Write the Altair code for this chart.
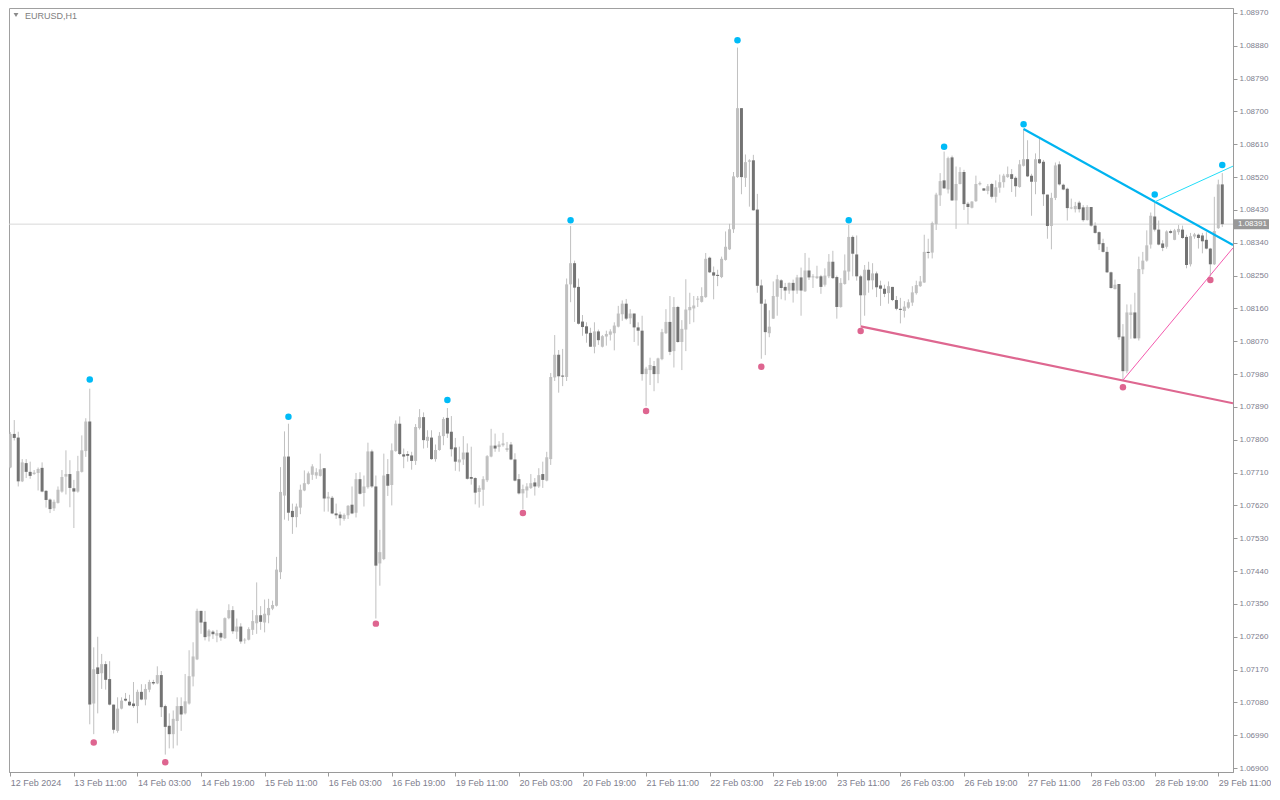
import altair as alt
import pandas as pd

# ---------------- OHLC data (EURUSD H1, bar 0 = 12 Feb 19:00) ----------------
open_ = [
    1.07724,1.07816,1.07806,1.07686,1.07736,1.07712,1.07706,1.07709,1.07723,1.07660,
    1.07636,1.07612,1.07627,1.07658,1.07699,1.07706,1.07667,1.07658,1.07712,1.07769,
    1.07850,1.07077,1.07176,1.07160,1.07185,1.07144,1.07074,1.07002,1.07063,1.07090,
    1.07082,1.07077,1.07070,1.07109,1.07088,1.07115,1.07136,1.07132,1.07155,1.07070,
    1.07016,1.06993,1.07029,1.07070,1.07050,1.07077,1.07151,1.07198,1.07331,1.07301,
    1.07261,1.07274,1.07263,1.07270,1.07256,1.07311,1.07333,1.07274,1.07288,1.07250,
    1.07252,1.07279,1.07297,1.07319,1.07299,1.07319,1.07337,1.07345,1.07437,1.07647,
    1.07754,1.07605,1.07588,1.07614,1.07661,1.07679,1.07704,1.07702,1.07701,1.07722,
    1.07639,1.07641,1.07598,1.07595,1.07583,1.07593,1.07622,1.07600,1.07692,1.07654,
    1.07670,1.07768,1.07672,1.07461,1.07473,1.07706,1.07676,1.07769,1.07844,1.07760,
    1.07761,1.07757,1.07742,1.07832,1.07862,1.07797,1.07806,1.07747,1.07772,1.07810,
    1.07860,1.07822,1.07779,1.07738,1.07746,1.07765,1.07698,1.07695,1.07657,1.07663,
    1.07689,1.07754,1.07784,1.07780,1.07785,1.07772,1.07787,1.07746,1.07692,1.07653,
    1.07661,1.07668,1.07683,1.07672,1.07706,1.07688,1.07747,1.07971,1.08033,1.07976,
    1.07972,1.08226,1.08284,1.08219,1.08124,1.08111,1.08093,1.08055,1.08097,1.08055,
    1.08083,1.08088,1.08092,1.08110,1.08144,1.08173,1.08133,1.08146,1.08108,1.08099,
    1.07980,1.07991,1.08002,1.07980,1.08021,1.08092,1.08123,1.08043,1.08164,1.08068,
    1.08102,1.08155,1.08160,1.08184,1.08178,1.08191,1.08299,1.08259,1.08252,1.08246,
    1.08293,1.08322,1.08377,1.08520,1.08709,1.08518,1.08562,1.08566,1.08431,1.08223,
    1.08173,1.08092,1.08132,1.08192,1.08237,1.08219,1.08209,1.08230,1.08209,1.08245,
    1.08207,1.08264,1.08245,1.08243,1.08248,1.08225,1.08248,1.08288,1.08246,1.08164,
    1.08227,1.08261,1.08356,1.08308,1.08248,1.08196,1.08266,1.08237,1.08256,1.08223,
    1.08214,1.08202,1.08219,1.08183,1.08159,1.08153,1.08162,1.08176,1.08202,1.08221,
    1.08231,1.08315,1.08313,1.08391,1.08470,1.08511,1.08486,1.08574,1.08456,1.08501,
    1.08534,1.08447,1.08436,1.08454,1.08500,1.08489,1.08482,1.08501,1.08466,1.08491,
    1.08506,1.08520,1.08528,1.08518,1.08493,1.08551,1.08569,1.08524,1.08507,1.08569,
    1.08562,1.08472,1.08386,1.08463,1.08555,1.08499,1.08488,1.08434,1.08432,1.08450,
    1.08437,1.08402,1.08438,1.08387,1.08369,1.08339,1.08315,1.08259,1.08213,1.08227,
    1.08083,1.07988,1.08142,1.08149,1.08078,1.08267,1.08291,1.08335,1.08412,1.08376,
    1.08338,1.08329,1.08372,1.08348,1.08369,1.08376,1.08356,1.08281,1.08357,1.08362,
    1.08360,1.08348,1.08324,1.08281,1.08380,1.08500,
]
high = [
    1.07821,1.07854,1.07822,1.07747,1.07747,1.07740,1.07717,1.07724,1.07738,1.07662,
    1.07639,1.07636,1.07672,1.07717,1.07771,1.07744,1.07690,1.07756,1.07812,1.07859,
    1.07940,1.07231,1.07260,1.07213,1.07193,1.07193,1.07074,1.07094,1.07094,1.07106,
    1.07101,1.07136,1.07115,1.07130,1.07130,1.07142,1.07142,1.07179,1.07166,1.07074,
    1.07050,1.07058,1.07094,1.07094,1.07158,1.07223,1.07245,1.07337,1.07331,1.07331,
    1.07281,1.07278,1.07279,1.07274,1.07313,1.07349,1.07344,1.07310,1.07297,1.07256,
    1.07286,1.07333,1.07409,1.07344,1.07362,1.07364,1.07359,1.07479,1.07725,1.07823,
    1.07844,1.07625,1.07625,1.07677,1.07716,1.07713,1.07733,1.07722,1.07762,1.07722,
    1.07657,1.07646,1.07625,1.07603,1.07598,1.07621,1.07672,1.07709,1.07711,1.07702,
    1.07792,1.07773,1.07702,1.07553,1.07762,1.07747,1.07790,1.07853,1.07864,1.07776,
    1.07769,1.07767,1.07843,1.07884,1.07875,1.07826,1.07826,1.07787,1.07821,1.07862,
    1.07887,1.07865,1.07805,1.07781,1.07810,1.07790,1.07781,1.07697,1.07675,1.07700,
    1.07758,1.07830,1.07817,1.07796,1.07819,1.07794,1.07794,1.07763,1.07706,1.07677,
    1.07681,1.07706,1.07695,1.07722,1.07740,1.07767,1.07983,1.08087,1.08046,1.08049,
    1.08242,1.08386,1.08291,1.08242,1.08142,1.08122,1.08107,1.08122,1.08102,1.08087,
    1.08099,1.08103,1.08122,1.08167,1.08182,1.08186,1.08158,1.08146,1.08122,1.08140,
    1.08000,1.08025,1.08016,1.08025,1.08104,1.08158,1.08194,1.08191,1.08167,1.08128,
    1.08240,1.08203,1.08194,1.08194,1.08218,1.08312,1.08302,1.08275,1.08266,1.08302,
    1.08371,1.08392,1.08534,1.08875,1.08709,1.08582,1.08569,1.08581,1.08474,1.08239,
    1.08185,1.08155,1.08234,1.08252,1.08240,1.08230,1.08231,1.08239,1.08252,1.08272,
    1.08312,1.08299,1.08254,1.08277,1.08252,1.08270,1.08309,1.08318,1.08250,1.08243,
    1.08308,1.08389,1.08360,1.08360,1.08252,1.08279,1.08288,1.08284,1.08261,1.08236,
    1.08225,1.08234,1.08219,1.08194,1.08189,1.08180,1.08185,1.08221,1.08236,1.08249,
    1.08362,1.08351,1.08398,1.08477,1.08531,1.08590,1.08576,1.08579,1.08549,1.08547,
    1.08540,1.08452,1.08454,1.08524,1.08508,1.08490,1.08501,1.08504,1.08511,1.08527,
    1.08529,1.08549,1.08542,1.08522,1.08567,1.08653,1.08621,1.08529,1.08585,1.08626,
    1.08567,1.08472,1.08477,1.08560,1.08563,1.08502,1.08491,1.08461,1.08452,1.08455,
    1.08443,1.08443,1.08438,1.08396,1.08371,1.08351,1.08329,1.08261,1.08239,1.08227,
    1.08117,1.08171,1.08171,1.08203,1.08302,1.08315,1.08374,1.08423,1.08450,1.08401,
    1.08347,1.08374,1.08376,1.08378,1.08389,1.08387,1.08362,1.08367,1.08367,1.08365,
    1.08367,1.08369,1.08326,1.08466,1.08513,1.08531,
]
low = [
    1.07722,1.07798,1.07672,1.07684,1.07695,1.07693,1.07704,1.07661,1.07656,1.07614,
    1.07599,1.07605,1.07625,1.07655,1.07650,1.07615,1.07558,1.07655,1.07710,1.07753,
    1.07020,1.06993,1.07050,1.07117,1.07115,1.07072,1.06995,1.06997,1.07061,1.07083,
    1.07070,1.07065,1.07023,1.07086,1.07072,1.07108,1.07128,1.07130,1.07040,1.06937,
    1.06954,1.06954,1.06962,1.07002,1.07047,1.07074,1.07124,1.07196,1.07268,1.07250,
    1.07247,1.07254,1.07245,1.07249,1.07254,1.07308,1.07268,1.07254,1.07241,1.07241,
    1.07250,1.07265,1.07268,1.07279,1.07272,1.07297,1.07333,1.07343,1.07418,1.07581,
    1.07578,1.07542,1.07560,1.07596,1.07659,1.07677,1.07690,1.07693,1.07699,1.07603,
    1.07603,1.07596,1.07583,1.07565,1.07578,1.07583,1.07596,1.07587,1.07650,1.07617,
    1.07666,1.07668,1.07310,1.07400,1.07470,1.07646,1.07620,1.07767,1.07758,1.07722,
    1.07740,1.07718,1.07731,1.07828,1.07776,1.07778,1.07745,1.07740,1.07770,1.07785,
    1.07805,1.07754,1.07715,1.07713,1.07731,1.07691,1.07677,1.07623,1.07614,1.07619,
    1.07684,1.07752,1.07767,1.07767,1.07781,1.07767,1.07744,1.07686,1.07650,1.07610,
    1.07641,1.07665,1.07647,1.07668,1.07668,1.07686,1.07731,1.07961,1.07929,1.07947,
    1.07961,1.08177,1.08123,1.08116,1.08085,1.08066,1.08055,1.08037,1.08060,1.08053,
    1.08058,1.08072,1.08045,1.08108,1.08126,1.08128,1.08117,1.08068,1.08058,1.07962,
    1.07892,1.07950,1.07933,1.07955,1.08018,1.08090,1.08032,1.07998,1.08066,1.07991,
    1.08043,1.08117,1.08122,1.08164,1.08176,1.08189,1.08257,1.08185,1.08221,1.08243,
    1.08291,1.08320,1.08367,1.08518,1.08473,1.08493,1.08439,1.08428,1.08203,1.08022,
    1.08032,1.08081,1.08131,1.08140,1.08185,1.08182,1.08200,1.08176,1.08200,1.08140,
    1.08205,1.08238,1.08216,1.08241,1.08200,1.08220,1.08243,1.08241,1.08132,1.08162,
    1.08225,1.08237,1.08248,1.08236,1.08113,1.08140,1.08203,1.08212,1.08191,1.08167,
    1.08191,1.08173,1.08180,1.08155,1.08119,1.08135,1.08159,1.08167,1.08198,1.08219,
    1.08230,1.08297,1.08297,1.08375,1.08441,1.08488,1.08475,1.08455,1.08378,1.08500,
    1.08430,1.08391,1.08434,1.08452,1.08497,1.08482,1.08473,1.08461,1.08450,1.08477,
    1.08491,1.08518,1.08479,1.08466,1.08491,1.08549,1.08520,1.08414,1.08473,1.08556,
    1.08441,1.08351,1.08322,1.08457,1.08497,1.08484,1.08401,1.08432,1.08423,1.08423,
    1.08398,1.08401,1.08384,1.08365,1.08320,1.08313,1.08257,1.08214,1.08212,1.08074,
    1.07962,1.07982,1.08077,1.08077,1.08072,1.08254,1.08288,1.08324,1.08371,1.08333,
    1.08317,1.08324,1.08365,1.08347,1.08362,1.08351,1.08270,1.08275,1.08351,1.08324,
    1.08311,1.08322,1.08248,1.08279,1.08378,1.08383,
]
close = [
    1.07816,1.07805,1.07686,1.07738,1.07712,1.07701,1.07710,1.07720,1.07658,1.07635,
    1.07610,1.07630,1.07663,1.07698,1.07706,1.07668,1.07658,1.07714,1.07771,1.07850,
    1.07074,1.07171,1.07158,1.07185,1.07142,1.07074,1.07005,1.07063,1.07085,1.07085,
    1.07072,1.07070,1.07109,1.07088,1.07117,1.07136,1.07132,1.07155,1.07067,1.07013,
    1.06993,1.07035,1.07070,1.07047,1.07083,1.07152,1.07206,1.07331,1.07299,1.07259,
    1.07277,1.07267,1.07270,1.07258,1.07311,1.07333,1.07275,1.07288,1.07247,1.07252,
    1.07281,1.07303,1.07319,1.07301,1.07323,1.07339,1.07347,1.07444,1.07657,1.07754,
    1.07600,1.07588,1.07617,1.07663,1.07681,1.07708,1.07727,1.07711,1.07719,1.07639,
    1.07644,1.07598,1.07593,1.07585,1.07594,1.07619,1.07598,1.07692,1.07652,1.07672,
    1.07768,1.07672,1.07455,1.07492,1.07702,1.07674,1.07771,1.07844,1.07761,1.07754,
    1.07756,1.07742,1.07835,1.07862,1.07799,1.07808,1.07747,1.07772,1.07811,1.07857,
    1.07817,1.07774,1.07740,1.07746,1.07765,1.07693,1.07693,1.07655,1.07668,1.07692,
    1.07755,1.07784,1.07776,1.07787,1.07790,1.07777,1.07746,1.07688,1.07653,1.07665,
    1.07672,1.07681,1.07672,1.07703,1.07690,1.07752,1.07972,1.08033,1.07974,1.07973,
    1.08226,1.08284,1.08217,1.08118,1.08109,1.08091,1.08055,1.08097,1.08073,1.08084,
    1.08090,1.08097,1.08113,1.08146,1.08173,1.08132,1.08146,1.08108,1.08099,1.07980,
    1.07995,1.08005,1.07980,1.08023,1.08095,1.08123,1.08041,1.08164,1.08068,1.08104,
    1.08157,1.08164,1.08168,1.08187,1.08194,1.08296,1.08259,1.08250,1.08249,1.08296,
    1.08329,1.08377,1.08522,1.08709,1.08520,1.08561,1.08566,1.08429,1.08222,1.08173,
    1.08095,1.08110,1.08194,1.08240,1.08216,1.08209,1.08230,1.08209,1.08245,1.08209,
    1.08264,1.08245,1.08248,1.08248,1.08219,1.08250,1.08288,1.08243,1.08164,1.08230,
    1.08264,1.08356,1.08310,1.08248,1.08196,1.08266,1.08237,1.08256,1.08218,1.08214,
    1.08200,1.08221,1.08183,1.08159,1.08156,1.08165,1.08177,1.08204,1.08224,1.08234,
    1.08315,1.08312,1.08394,1.08472,1.08509,1.08489,1.08572,1.08456,1.08501,1.08534,
    1.08446,1.08438,1.08453,1.08501,1.08504,1.08483,1.08495,1.08466,1.08492,1.08506,
    1.08524,1.08528,1.08515,1.08495,1.08555,1.08569,1.08522,1.08507,1.08569,1.08558,
    1.08473,1.08386,1.08463,1.08552,1.08500,1.08486,1.08435,1.08437,1.08441,1.08432,
    1.08402,1.08438,1.08387,1.08367,1.08336,1.08315,1.08259,1.08216,1.08225,1.08081,
    1.07988,1.08149,1.08149,1.08078,1.08268,1.08291,1.08333,1.08414,1.08376,1.08335,
    1.08326,1.08371,1.08367,1.08374,1.08378,1.08353,1.08279,1.08358,1.08363,1.08353,
    1.08344,1.08324,1.08281,1.08372,1.08500,1.08391,
]

# ---------------- axis labels ----------------
date_idx = [0, 16, 32, 48, 64, 80, 96, 112, 128, 144, 160, 176, 192, 208, 224, 240, 256, 272, 288, 304]
date_labels = ["12 Feb 2024", "13 Feb 11:00", "14 Feb 03:00", "14 Feb 19:00", "15 Feb 11:00",
               "16 Feb 03:00", "16 Feb 19:00", "19 Feb 11:00", "20 Feb 03:00", "20 Feb 19:00",
               "21 Feb 11:00", "22 Feb 03:00", "22 Feb 19:00", "23 Feb 11:00", "26 Feb 03:00",
               "26 Feb 19:00", "27 Feb 11:00", "28 Feb 03:00", "28 Feb 19:00", "29 Feb 11:00"]
price_ticks = [1.06900, 1.06990, 1.07080, 1.07170, 1.07260, 1.07350, 1.07440, 1.07530,
               1.07620, 1.07710, 1.07800, 1.07890, 1.07980, 1.08070, 1.08160, 1.08250,
               1.08340, 1.08430, 1.08520, 1.08610, 1.08700, 1.08790, 1.08880, 1.08970]

# ---------------- fractal dots ----------------
up_idx = [20, 70, 110, 141, 183, 211, 235, 255, 288, 305]
up_price = [1.07965, 1.07863, 1.07909, 1.08402, 1.08895, 1.08402, 1.08603, 1.08665, 1.08472, 1.08553]
dn_idx = [21, 39, 92, 129, 160, 189, 214, 280, 302]
dn_price = [1.06970, 1.06916, 1.07296, 1.07599, 1.07879, 1.08000, 1.08098, 1.07944, 1.08238]

# ---------------- trend lines ----------------
line_x1 = [255, 288, 214, 280]
line_y1 = [1.08652, 1.08452, 1.08111, 1.07963]
line_x2 = [307.7, 307.7, 307.7, 307.7]
line_y2 = [1.08334, 1.08550, 1.07900, 1.08326]
line_col = ["#00B4F0", "#22DDF8", "#DE6790", "#F45AAE"]
line_w = [2.2, 1.0, 2.2, 1.0]

current_price = 1.08391
symbol = "EURUSD,H1"

n = len(close)
assert len(open_) == n and len(high) == n and len(low) == n and n == 306

bars = pd.DataFrame({"i": list(range(n)), "open": open_, "high": high, "low": low, "close": close})
up_df = pd.DataFrame({"i": up_idx, "p": up_price})
dn_df = pd.DataFrame({"i": dn_idx, "p": dn_price})
lines_df = pd.DataFrame({"x1": line_x1, "y1": line_y1, "x2": line_x2, "y2": line_y2,
                         "col": line_col, "w": line_w})
cur_df = pd.DataFrame({"p": [current_price], "lab": ["%.5f" % current_price]})
sym_df = pd.DataFrame({"t": [symbol]})

W, H = 1224, 764
xs = alt.Scale(domain=[-0.325, 307.7], nice=False, zero=False, padding=0)
ys = alt.Scale(domain=[1.068893, 1.089835], nice=False, zero=False, padding=0)

FONT = "Liberation Sans"
AXC = "#9A9A9A"
LBL = "#7E7E8E"

label_js = "[" + ",".join("'%s'" % s for s in date_labels) + "]"
idx_js = "[" + ",".join(str(v) for v in date_idx) + "]"

x_axis = alt.Axis(values=date_idx, labelExpr=f"{label_js}[indexof({idx_js}, datum.value)]",
                  grid=False, tickSize=4, tickColor=AXC, domainColor=AXC,
                  labelAlign="left", labelBaseline="top", labelPadding=2,
                  labelFont=FONT, labelFontSize=9, labelColor=LBL,
                  labelOverlap=False, labelFlush=False, title=None)
y_axis = alt.Axis(orient="right", values=price_ticks, format=".5f", grid=False,
                  tickSize=4, tickColor=AXC, domainColor=AXC, labelPadding=2,
                  labelFont=FONT, labelFontSize=8, labelColor=LBL,
                  labelOverlap=False, labelFlush=False, title=None)


def X(field):
    return alt.X(field, type="quantitative", scale=xs, axis=x_axis)


def Y(field):
    return alt.Y(field, type="quantitative", scale=ys, axis=y_axis)


cur_line = alt.Chart(cur_df).mark_rule(color="#D8D8D8", strokeWidth=1).encode(y=Y("p"))

wicks = alt.Chart(bars).mark_rule(color="#C0C0C0", strokeWidth=1, clip=True).encode(
    x=X("i"), y=Y("low"), y2="high")

bodies = alt.Chart(bars).mark_bar(size=3, clip=True).encode(
    x=X("i"), y=Y("open"), y2="close",
    color=alt.condition("datum.close >= datum.open", alt.value("#C0C0C0"), alt.value("#737373")))

tlines = alt.Chart(lines_df).mark_rule(clip=True).encode(
    x=X("x1"), y=Y("y1"), x2="x2", y2="y2",
    color=alt.Color("col:N", scale=None),
    strokeWidth=alt.StrokeWidth("w:Q", scale=None))

up_dots = alt.Chart(up_df).mark_circle(size=42, opacity=1, color="#00BBF7").encode(x=X("i"), y=Y("p"))
dn_dots = alt.Chart(dn_df).mark_circle(size=42, opacity=1, color="#DE6590").encode(x=X("i"), y=Y("p"))

# current-price tag on the price axis (35 px wide, 10 px tall)
BOX = "M-1,-0.2857L1,-0.2857L1,0.2857L-1,0.2857Z"
box = alt.Chart(cur_df).mark_point(shape=BOX, size=1225, filled=True, opacity=1,
                                   color="#999999", strokeWidth=0).encode(
    x=alt.value(W + 18.5), y=Y("p"))
box_txt = alt.Chart(cur_df).mark_text(align="left", baseline="middle", font=FONT,
                                      fontSize=8, color="white").encode(
    x=alt.value(W + 5), y=Y("p"), text="lab:N")

tri = alt.Chart(sym_df).mark_point(shape="triangle-down", filled=True, size=24, opacity=1,
                                   color="#8A8A8A").encode(x=alt.value(7), y=alt.value(7))
sym_txt = alt.Chart(sym_df).mark_text(align="left", baseline="middle", font=FONT,
                                      fontSize=9, color="#808080").encode(
    x=alt.value(16), y=alt.value(8), text="t:N")

chart = alt.layer(cur_line, wicks, bodies, tlines, up_dots, dn_dots, box, box_txt, tri, sym_txt).properties(
    width=W, height=H, background="white",
    padding={"left": 0, "top": 0, "right": 0, "bottom": 0},
).configure_view(stroke="#A0A0A0", strokeWidth=1)

chart.save("out.html", embed_options={"renderer": "svg", "actions": False})
